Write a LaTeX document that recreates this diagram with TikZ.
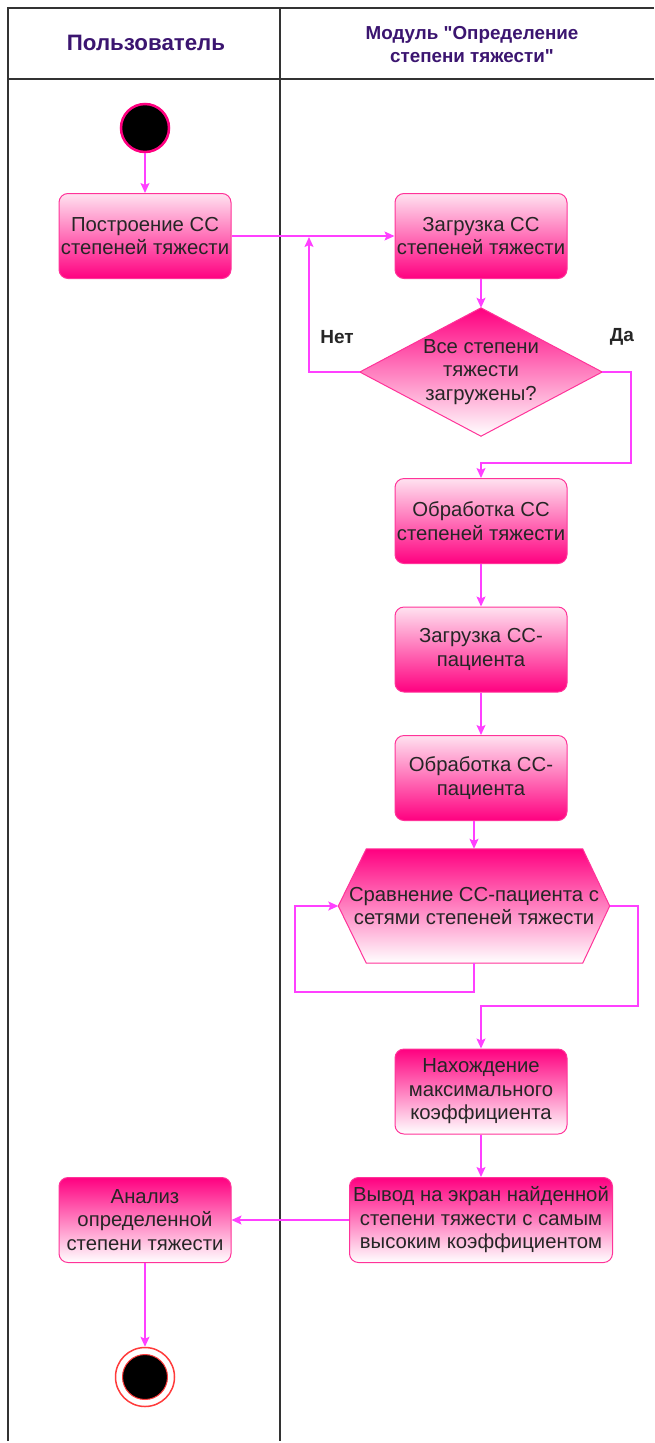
\documentclass[tikz,border=0pt]{standalone}
\usepackage{fontspec}
\setmainfont{Liberation Sans}[Ligatures=TeXOff]
\usetikzlibrary{arrows.meta,backgrounds}
\definecolor{deep}{HTML}{FF0080}
\definecolor{pale}{HTML}{FFE2F0}
\definecolor{edgec}{HTML}{FF40FF}
\definecolor{rim}{HTML}{FF3399}
\definecolor{hdr}{HTML}{3B1570}
\definecolor{framec}{HTML}{333333}
\definecolor{ink}{HTML}{262626}
\definecolor{endring}{HTML}{FF3B3B}
\begin{document}
\begin{tikzpicture}[x=1pt,y=-1pt,
  boxtext/.style={font=\fontsize{20.3}{23.5}\selectfont, text=ink, align=center},
  act/.style={boxtext, rectangle, rounded corners=9pt, draw=rim, line width=1pt,
    minimum width=172pt, minimum height=85pt, inner sep=1pt},
  actup/.style={act, top color=pale, bottom color=deep},
  actdown/.style={act, top color=deep, bottom color=white},
  shaped/.style={boxtext, rectangle, inner sep=0pt},
  flow/.style={draw=edgec, line width=1.3pt, -{Stealth[length=10pt,width=9pt,inset=2pt]}},
  lanehead/.style={font=\fontsize{18.8}{23}\selectfont\bfseries, text=hdr, align=center},
  guard/.style={font=\fontsize{19}{22}\selectfont\bfseries, text=ink},
  lane/.style={draw=framec, line width=1.4pt}]
\useasboundingbox (0,0) rectangle (654,1443);

% swimlane frame
\draw[lane] (8,1441) -- (8,8) -- (654,8);
\draw[lane] (8,79) -- (654,79);
\draw[lane] (280,8) -- (280,1441);
\node[lanehead, font=\fontsize{22.3}{26}\selectfont\bfseries] (laneuser) at (146,43) {Пользователь};
\node[lanehead] (lanemod) at (472,45) {Модуль "Определение\\степени тяжести"};

% initial state
\node[circle, fill=black, draw=deep, line width=2.5pt, minimum size=48pt, inner sep=0pt] (start) at (145,128) {};

% activities
\node[actup] (build) at (145,236) {Построение СС\\степеней тяжести};
\node[actup] (loadss) at (481,236) {Загрузка СС\\степеней тяжести};
\node[shaped, minimum width=242pt, minimum height=128pt] (dec) at (481,372) {Все степени\\тяжести\\загружены?};
\node[actup] (procss) at (481,521) {Обработка СС\\степеней тяжести};
\node[actup] (loadpt) at (481,649.5) {Загрузка СС-\\пациента};
\node[actup] (procpt) at (481,778) {Обработка СС-\\пациента};
\node[shaped, minimum width=271pt, minimum height=114pt] (cmp) at (474,906) {Сравнение СС-пациента с\\сетями степеней тяжести};
\node[actdown] (maxc) at (481,1091.5) {Нахождение\\максимального\\коэффициента};
\node[actdown, minimum width=263pt] (show) at (481,1220) {Вывод на экран найденной\\степени тяжести с самым\\высоким коэффициентом};
\node[actdown] (anal) at (145,1220) {Анализ\\определенной\\степени тяжести};

% final state
\node[circle, fill=white, draw=endring, line width=1.5pt, minimum size=59pt, inner sep=0pt] (fin) at (145,1377) {};
\node[circle, fill=black, draw=endring, line width=1pt, minimum size=45pt, inner sep=0pt] (fincore) at (fin.center) {};

% decision and comparison outlines behind their texts
\begin{pgfonlayer}{background}
  \path[top color=deep, bottom color=white, draw=rim, line width=1pt]
    (dec.north) -- (dec.east) -- (dec.south) -- (dec.west) -- cycle;
  \path[top color=deep, bottom color=white, draw=rim, line width=1pt]
    (cmp.west) -- ([xshift=28pt]cmp.north west) -- ([xshift=-27pt]cmp.north east)
    -- (cmp.east) -- ([xshift=-27pt]cmp.south east) -- ([xshift=28pt]cmp.south west) -- cycle;
\end{pgfonlayer}

% guards
\node[guard] (gno) at (337,337) {Нет};
\node[guard] (gyes) at (622,337) {Да};

% bend points
\coordinate (nojoin) at (309,237);
\coordinate (yesbend) at (631,463);
\coordinate (selfbend) at (295,992);
\coordinate (exitbend) at (638,1006);

% control flow
\draw[flow] (start) -- (build);
\draw[flow] (build) -- (loadss);
\draw[flow] (loadss) -- (dec.north);
\draw[flow] (dec.west) -| (nojoin);
\draw[flow] (dec.east) -| (yesbend) -| (procss.north);
\draw[flow] (procss) -- (loadpt);
\draw[flow] (loadpt) -- (procpt);
\draw[flow] (procpt.south -| cmp.north) -- (cmp.north);
\draw[flow] (cmp.south) |- (selfbend) |- (cmp.west);
\draw[flow] (cmp.east) -| (exitbend) -| (maxc.north);
\draw[flow] (maxc) -- (show);
\draw[flow] (show) -- (anal);
\draw[flow] (anal) -- (fin);
\end{tikzpicture}
\end{document}
